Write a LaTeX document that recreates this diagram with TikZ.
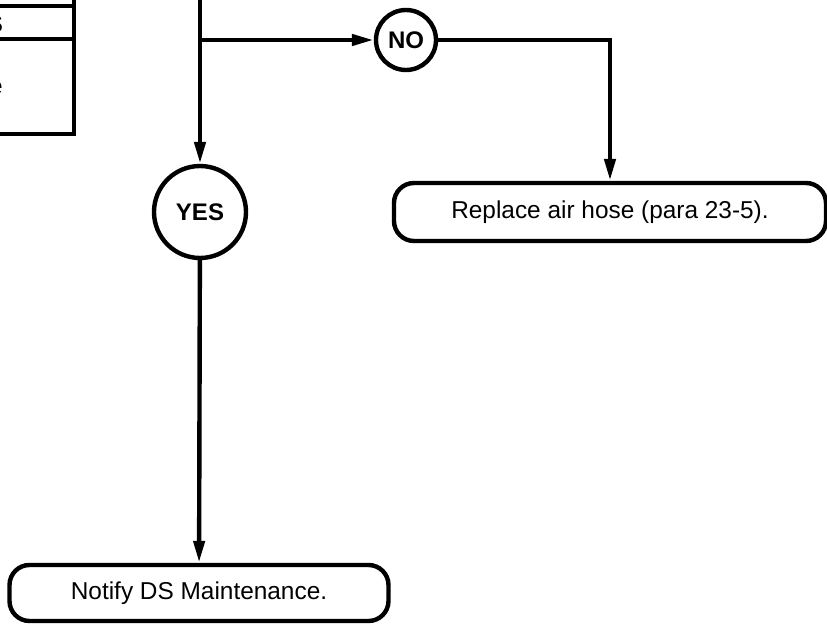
\documentclass[tikz,border=0pt]{standalone}
\usepackage{fontspec}
\setmainfont{Liberation Sans}
\usetikzlibrary{arrows.meta,shapes,positioning}

\begin{document}
\begin{tikzpicture}[x=0.5pt, y=-0.5pt, line width=2.2pt,
    >={Triangle[length=11pt,width=5.5pt]},
    font=\fontsize{12.2}{14}\selectfont,
    answer/.style={circle, draw, inner sep=0pt,
      font=\fontsize{12}{14}\selectfont\bfseries},
    action/.style={draw, rounded corners=10pt, inner sep=0pt,
      minimum height=29pt}]
  %% ── Frame: the page cuts the chart at its edges ────────────
  \clip (0,0) rectangle (827,626);

  %% ── Step box, only its right end shows ─────────────────────
  \draw (74,-10) -- (74,134) -- (-10,134);
  \draw (-10,6) -- (74,6);
  \draw (-10,39) -- (74,39);
  \node[anchor=east, inner sep=0pt,
    font=\fontsize{12}{14}\selectfont\bfseries] (head) at (5,24) {S};
  \node[anchor=east, inner sep=0pt] (body) at (5,88) {e};

  %% ── Decision answers ───────────────────────────────────────
  \coordinate (top)   at (200,-10);
  \coordinate (split) at (200,40);
  \node[answer, minimum size=46pt] (yes) at (200,212) {YES};
  \node[answer, minimum size=30pt] (no)  at (406,40)  {NO};

  %% ── Actions ────────────────────────────────────────────────
  \node[action, minimum width=216pt] (replace) at (610,212)
    {Replace air hose (para 23-5).};
  \node[action, minimum width=189.5pt, minimum height=28pt] (notify) at (199,593)
    {Notify DS Maintenance.};

  %% Flow lines
  \draw[->] (top) -- (yes);
  \draw[->] (split) -- (no);
  \draw[->] (no) -| (replace);
  \draw[->] (yes) -- (notify);
\end{tikzpicture}
\end{document}
